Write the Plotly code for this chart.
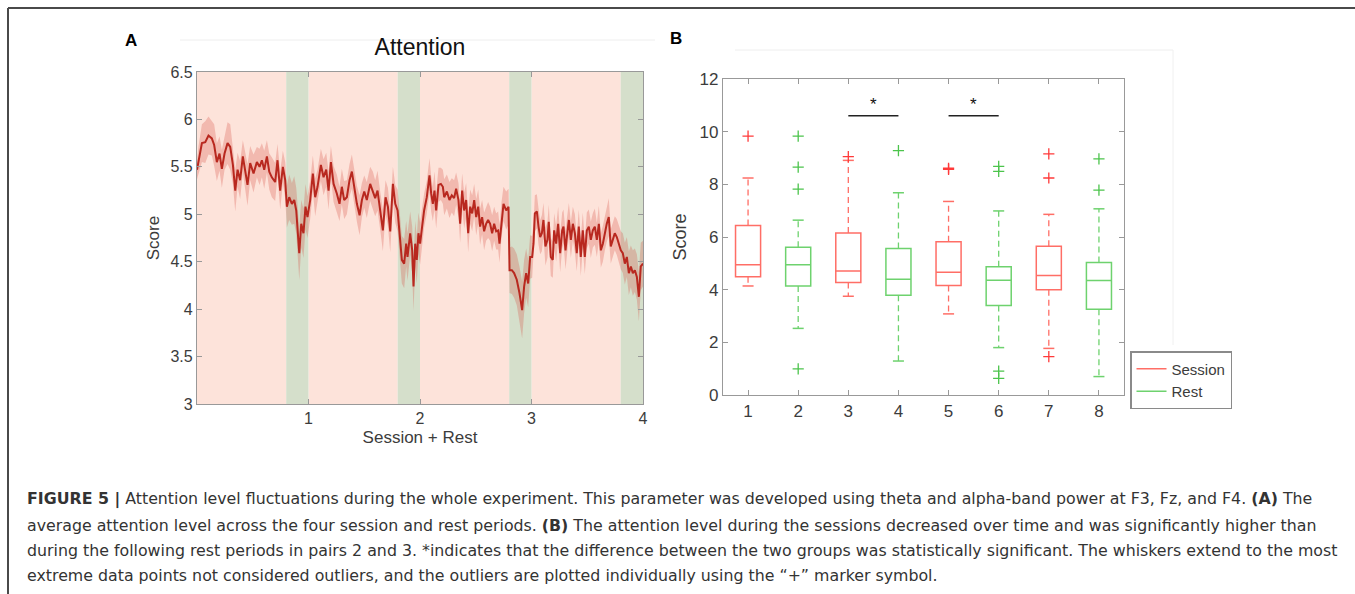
import plotly.graph_objects as go

# ---------------- Panel A data ----------------
time_x = [
    0.000, 0.014, 0.044, 0.074, 0.103, 0.133, 0.154, 0.178, 0.202, 0.223,
    0.247, 0.274, 0.298, 0.322, 0.343, 0.364, 0.387, 0.411, 0.432, 0.453,
    0.477, 0.507, 0.537, 0.561, 0.582, 0.603, 0.627, 0.648, 0.671, 0.701,
    0.722, 0.746, 0.770, 0.791, 0.806, 0.827, 0.851, 0.872, 0.890, 0.902,
    0.917, 0.935, 0.955, 0.973, 0.991, 1.015, 1.039, 1.060, 1.081, 1.111,
    1.135, 1.159, 1.180, 1.201, 1.225, 1.254, 1.278, 1.299, 1.320, 1.344,
    1.368, 1.389, 1.410, 1.434, 1.458, 1.479, 1.500, 1.523, 1.553, 1.577,
    1.598, 1.619, 1.643, 1.667, 1.691, 1.712, 1.733, 1.757, 1.778, 1.799,
    1.822, 1.837, 1.858, 1.876, 1.888, 1.912, 1.930, 1.942, 1.957, 1.971,
    1.986, 2.001, 2.019, 2.037, 2.061, 2.085, 2.100, 2.115, 2.130, 2.145,
    2.166, 2.187, 2.205, 2.217, 2.241, 2.264, 2.285, 2.306, 2.324, 2.345,
    2.360, 2.378, 2.396, 2.414, 2.432, 2.450, 2.468, 2.486, 2.504, 2.522,
    2.539, 2.557, 2.575, 2.593, 2.611, 2.629, 2.647, 2.665, 2.683, 2.701,
    2.713, 2.731, 2.749, 2.773, 2.794, 2.803, 2.824, 2.844, 2.868, 2.892,
    2.916, 2.934, 2.952, 2.970, 2.988, 3.006, 3.018, 3.030, 3.048, 3.063,
    3.078, 3.093, 3.107, 3.125, 3.143, 3.155, 3.173, 3.191, 3.203, 3.221,
    3.239, 3.257, 3.275, 3.287, 3.305, 3.317, 3.335, 3.353, 3.371, 3.389,
    3.406, 3.424, 3.442, 3.460, 3.478, 3.496, 3.514, 3.532, 3.550, 3.568,
    3.586, 3.604, 3.622, 3.640, 3.658, 3.675, 3.693, 3.711, 3.729, 3.747,
    3.765, 3.783, 3.801, 3.819, 3.837, 3.855, 3.873, 3.891, 3.909, 3.927,
    3.945, 3.963, 3.980, 4.000,
]
attention_mean = [
    5.47, 5.57, 5.75, 5.76, 5.83, 5.80, 5.73, 5.55, 5.64, 5.48,
    5.64, 5.75, 5.71, 5.52, 5.25, 5.47, 5.36, 5.61, 5.48, 5.31,
    5.54, 5.43, 5.55, 5.50, 5.57, 5.47, 5.61, 5.45, 5.39, 5.34,
    5.57, 5.25, 5.50, 5.36, 5.08, 5.18, 5.11, 5.15, 5.04, 4.83,
    4.59, 4.90, 4.80, 5.08, 4.97, 5.15, 5.43, 5.18, 5.29, 5.52,
    5.39, 5.47, 5.25, 5.55, 5.32, 5.22, 5.11, 5.29, 5.15, 5.18,
    5.36, 5.45, 5.29, 5.11, 4.99, 5.15, 5.24, 5.15, 5.32, 5.25,
    5.17, 5.25, 5.04, 4.83, 5.18, 5.08, 4.82, 5.32, 5.11, 5.04,
    4.73, 4.52, 4.48, 4.69, 4.55, 4.80, 4.62, 4.24, 4.69, 4.52,
    4.80, 4.69, 4.87, 5.04, 5.18, 5.41, 5.22, 5.11, 5.25, 5.04,
    5.31, 5.32, 5.29, 5.18, 5.24, 5.15, 5.20, 5.17, 5.27, 5.15,
    4.90, 5.25, 5.04, 5.15, 4.80, 5.08, 5.01, 5.15, 4.97, 5.08,
    4.87, 4.97, 4.82, 4.90, 4.94, 4.90, 4.80, 4.90, 4.82, 4.83,
    4.69, 4.94, 5.11, 5.04, 5.08, 4.41, 4.41, 4.38, 4.31, 4.17,
    3.99, 4.24, 4.38, 4.27, 4.55, 4.55, 4.69, 5.01, 5.03, 4.87,
    4.76, 4.80, 4.94, 4.66, 4.73, 4.92, 4.55, 4.52, 4.83, 4.69,
    4.90, 4.59, 4.83, 4.87, 4.62, 4.76, 4.94, 4.73, 4.90, 4.80,
    4.59, 4.87, 4.55, 4.83, 4.55, 4.83, 4.87, 4.73, 4.83, 4.87,
    4.73, 4.90, 4.62, 4.69, 4.80, 4.90, 4.97, 4.66, 4.73, 4.80,
    4.76, 4.69, 4.62, 4.59, 4.48, 4.55, 4.38, 4.45, 4.38, 4.41,
    4.34, 4.13, 4.45, 4.48,
]
attention_sem = [
    0.10, 0.15, 0.20, 0.22, 0.20, 0.18, 0.22, 0.20, 0.18, 0.20,
    0.17, 0.22, 0.24, 0.20, 0.22, 0.18, 0.20, 0.17, 0.19, 0.22,
    0.18, 0.20, 0.16, 0.19, 0.18, 0.20, 0.17, 0.19, 0.21, 0.20,
    0.17, 0.20, 0.17, 0.19, 0.22, 0.24, 0.22, 0.25, 0.24, 0.27,
    0.28, 0.25, 0.26, 0.24, 0.22, 0.20, 0.19, 0.20, 0.18, 0.17,
    0.19, 0.18, 0.20, 0.17, 0.19, 0.20, 0.18, 0.19, 0.20, 0.18,
    0.17, 0.18, 0.20, 0.19, 0.21, 0.18, 0.17, 0.19, 0.18, 0.20,
    0.19, 0.21, 0.20, 0.22, 0.18, 0.20, 0.22, 0.18, 0.20, 0.22,
    0.24, 0.25, 0.26, 0.24, 0.25, 0.23, 0.25, 0.26, 0.24, 0.25,
    0.22, 0.22, 0.20, 0.18, 0.17, 0.18, 0.19, 0.18, 0.20, 0.19,
    0.18, 0.17, 0.18, 0.19, 0.18, 0.19, 0.18, 0.19, 0.17, 0.18,
    0.20, 0.18, 0.19, 0.18, 0.20, 0.18, 0.19, 0.17, 0.19, 0.18,
    0.19, 0.18, 0.20, 0.18, 0.19, 0.18, 0.19, 0.18, 0.19, 0.20,
    0.20, 0.19, 0.18, 0.20, 0.19, 0.24, 0.25, 0.26, 0.27, 0.28,
    0.30, 0.28, 0.26, 0.25, 0.23, 0.22, 0.21, 0.19, 0.18, 0.19,
    0.18, 0.19, 0.18, 0.20, 0.19, 0.18, 0.20, 0.19, 0.18, 0.19,
    0.18, 0.20, 0.19, 0.18, 0.20, 0.19, 0.18, 0.19, 0.18, 0.20,
    0.19, 0.18, 0.20, 0.19, 0.18, 0.19, 0.18, 0.19, 0.18, 0.19,
    0.18, 0.19, 0.18, 0.19, 0.18, 0.19, 0.20, 0.18, 0.19, 0.18,
    0.19, 0.18, 0.20, 0.21, 0.22, 0.21, 0.23, 0.22, 0.24, 0.23,
    0.24, 0.26, 0.25, 0.24,
]
session_starts = [0.0, 1.0, 2.0, 3.0]
session_ends = [0.8, 1.8, 2.8, 3.8]
rest_starts = [0.8, 1.8, 2.8, 3.8]
rest_ends = [1.0, 2.0, 3.0, 4.0]
a_yticks = [3, 3.5, 4, 4.5, 5, 5.5, 6, 6.5]
a_yticklabels = ["3", "3.5", "4", "4.5", "5", "5.5", "6", "6.5"]
a_xticks = [1, 2, 3, 4]

# ---------------- Panel B data ----------------
box_pos = [1, 2, 3, 4, 5, 6, 7, 8]
box_group = ["Session", "Rest", "Session", "Rest", "Session", "Rest", "Session", "Rest"]
box_q1 = [4.49, 4.14, 4.27, 3.79, 4.16, 3.40, 4.00, 3.26]
box_med = [4.95, 4.95, 4.71, 4.40, 4.66, 4.36, 4.54, 4.35]
box_q3 = [6.44, 5.61, 6.15, 5.56, 5.82, 4.87, 5.65, 5.03]
box_lo = [4.14, 2.53, 3.75, 1.29, 3.08, 1.80, 1.77, 0.70]
box_hi = [8.24, 6.64, 8.91, 7.68, 7.35, 6.99, 6.86, 7.07]
outlier_pos = [1, 2, 2, 2, 2, 3, 4, 5, 5, 6, 6, 6, 6, 7, 7, 7, 8, 8]
outlier_val = [9.83, 9.83, 8.65, 7.82, 0.99, 9.05, 9.28, 8.61, 8.57,
               8.68, 8.49, 0.91, 0.63, 9.16, 8.24, 1.46, 8.97, 7.78]
sig_pairs = [(3, 4), (5, 6)]
sig_level = 10.6

# ---------------- styles ----------------
SESSION_BG = "#fde3da"
REST_BG = "#d5dfcb"
MEAN_COL = "#b8281f"
BAND_COL = "rgba(215,75,65,0.28)"
SES_COL = "#ff6e66"
REST_COL = "#6ed26e"
SES_OUT = "#ff3a3a"
REST_OUT = "#4cc44c"
AX_COL = "#999999"
TXT_COL = "#3c3c3c"
FONT = "Liberation Sans, Arial, sans-serif"
CAP_FONT = "DejaVu Sans, Liberation Sans, sans-serif"
W, H = 1355, 594

def px_x(p):
    return p / W

def px_y(p):
    return 1 - p / H

fig = go.Figure()

# ---- Panel A ----
upper = [m + e for m, e in zip(attention_mean, attention_sem)]
lower = [m - e for m, e in zip(attention_mean, attention_sem)]
fig.add_trace(go.Scatter(
    x=time_x + time_x[::-1], y=upper + lower[::-1], fill="toself",
    fillcolor=BAND_COL, line=dict(width=0), mode="lines",
    hoverinfo="skip", showlegend=False, xaxis="x", yaxis="y"))
fig.add_trace(go.Scatter(
    x=time_x, y=attention_mean, mode="lines",
    line=dict(color=MEAN_COL, width=2), showlegend=False,
    xaxis="x", yaxis="y"))

shapes = []
for s, e in zip(session_starts, session_ends):
    shapes.append(dict(type="rect", xref="x", yref="y domain", x0=s, x1=e, y0=0, y1=1,
                       fillcolor=SESSION_BG, line=dict(width=0), layer="below"))
for s, e in zip(rest_starts, rest_ends):
    shapes.append(dict(type="rect", xref="x", yref="y domain", x0=s, x1=e, y0=0, y1=1,
                       fillcolor=REST_BG, line=dict(width=0), layer="below"))

# ---- Panel B ----
ses_idx = [i for i, g in enumerate(box_group) if g == "Session"]
rest_idx = [i for i, g in enumerate(box_group) if g == "Rest"]

for idx, col in ((ses_idx, SES_COL), (rest_idx, REST_COL)):
    wx, wy = [], []
    for i in idx:
        wx += [box_pos[i], box_pos[i], None, box_pos[i], box_pos[i], None]
        wy += [box_q3[i], box_hi[i], None, box_q1[i], box_lo[i], None]
    fig.add_trace(go.Scatter(x=wx, y=wy, mode="lines",
                             line=dict(color=col, width=1.3, dash="6px,4px"),
                             showlegend=False, hoverinfo="skip", xaxis="x2", yaxis="y2"))
    cx, cy = [], []
    for i in idx:
        for v in (box_hi[i], box_lo[i]):
            cx += [box_pos[i] - 0.11, box_pos[i] + 0.11, None]
            cy += [v, v, None]
    fig.add_trace(go.Scatter(x=cx, y=cy, mode="lines",
                             line=dict(color=col, width=1.5),
                             showlegend=False, hoverinfo="skip", xaxis="x2", yaxis="y2"))
    fig.add_trace(go.Box(
        x=[box_pos[i] for i in idx],
        q1=[box_q1[i] for i in idx], median=[box_med[i] for i in idx],
        q3=[box_q3[i] for i in idx],
        lowerfence=[box_q1[i] for i in idx], upperfence=[box_q3[i] for i in idx],
        width=0.5, whiskerwidth=0, fillcolor="rgba(0,0,0,0)",
        line=dict(color=col, width=1.5), boxpoints=False,
        showlegend=False, xaxis="x2", yaxis="y2"))

for grp, col in (("Session", SES_OUT), ("Rest", REST_OUT)):
    ox = [p for p, v in zip(outlier_pos, outlier_val) if box_group[p - 1] == grp]
    oy = [v for p, v in zip(outlier_pos, outlier_val) if box_group[p - 1] == grp]
    fig.add_trace(go.Scatter(x=ox, y=oy, mode="markers",
                             marker=dict(symbol="cross-thin", size=8,
                                         line=dict(color=col, width=1.3)),
                             showlegend=False, xaxis="x2", yaxis="y2"))

for a, b in sig_pairs:
    fig.add_trace(go.Scatter(x=[a, b], y=[sig_level, sig_level], mode="lines",
                             line=dict(color="#222222", width=1.5),
                             showlegend=False, hoverinfo="skip", xaxis="x2", yaxis="y2"))

fig.add_trace(go.Scatter(x=[None], y=[None], mode="lines", name="Session",
                         line=dict(color=SES_COL, width=1.5), xaxis="x2", yaxis="y2"))
fig.add_trace(go.Scatter(x=[None], y=[None], mode="lines", name="Rest",
                         line=dict(color=REST_COL, width=1.5), xaxis="x2", yaxis="y2"))

annotations = []
for a, b in sig_pairs:
    annotations.append(dict(x=(a + b) / 2, y=sig_level + 0.45, xref="x2", yref="y2",
                            text="*", showarrow=False, yanchor="middle",
                            font=dict(size=17, color="#111111", family=FONT)))

annotations.append(dict(x=px_x(131), y=px_y(40), xref="paper", yref="paper", text="<b>A</b>",
                        xanchor="center", yanchor="middle", showarrow=False,
                        font=dict(size=17, color="#000", family=FONT)))
annotations.append(dict(x=px_x(676), y=px_y(38), xref="paper", yref="paper", text="<b>B</b>",
                        xanchor="center", yanchor="middle", showarrow=False,
                        font=dict(size=17, color="#000", family=FONT)))

caption_lines = [
    "<b>FIGURE 5 |</b> Attention level fluctuations during the whole experiment. This parameter was developed using theta and alpha-band power at F3, Fz, and F4. <b>(A)</b> The",
    "average attention level across the four session and rest periods. <b>(B)</b> The attention level during the sessions decreased over time and was significantly higher than",
    "during the following rest periods in pairs 2 and 3. *indicates that the difference between the two groups was statistically significant. The whiskers extend to the most",
    "extreme data points not considered outliers, and the outliers are plotted individually using the \u201c+\u201d marker symbol.",
]
caption_y = [499, 525, 550, 575]
for txt, yy in zip(caption_lines, caption_y):
    annotations.append(dict(x=px_x(25), y=px_y(yy), xref="paper", yref="paper",
                            xanchor="left", yanchor="middle", text=txt, showarrow=False,
                            font=dict(size=15.8, color="#333333", family=CAP_FONT)))

shapes.append(dict(type="line", xref="paper", yref="paper", x0=px_x(8), x1=1,
                   y0=px_y(8), y1=px_y(8), line=dict(color="#4a4a4a", width=2)))
shapes.append(dict(type="line", xref="paper", yref="paper", x0=px_x(8), x1=px_x(8),
                   y0=0, y1=px_y(8), line=dict(color="#4a4a4a", width=2)))
shapes.append(dict(type="line", xref="paper", yref="paper", x0=px_x(180), x1=px_x(655),
                   y0=px_y(40), y1=px_y(40), line=dict(color="#eeeeee", width=1)))
shapes.append(dict(type="line", xref="paper", yref="paper", x0=px_x(735), x1=px_x(1173),
                   y0=px_y(50), y1=px_y(50), line=dict(color="#eeeeee", width=1)))
shapes.append(dict(type="line", xref="paper", yref="paper", x0=px_x(1173), x1=px_x(1173),
                   y0=px_y(50), y1=px_y(345), line=dict(color="#f0f0f0", width=1)))

axis_common = dict(showgrid=False, zeroline=False, showline=True, linecolor=AX_COL,
                   linewidth=1.2, mirror="allticks", ticks="inside", ticklen=5,
                   tickcolor=AX_COL, automargin=False,
                   tickfont=dict(size=16, color=TXT_COL, family=FONT))

fig.update_layout(
    width=W, height=H, margin=dict(l=0, r=0, t=0, b=0, pad=0, autoexpand=False),
    paper_bgcolor="white", plot_bgcolor="white",
    font=dict(family=FONT, color=TXT_COL),
    title=dict(text="Attention", x=px_x(420), y=px_y(47), xanchor="center", yanchor="middle",
               xref="paper", yref="paper", automargin=False,
               font=dict(size=23, color="#111111", family=FONT)),
    xaxis=dict(axis_common, domain=[px_x(197), px_x(643)], range=[0, 4],
               tickvals=a_xticks, anchor="y",
               title=dict(text="Session + Rest", standoff=4,
                          font=dict(size=17, color=TXT_COL, family=FONT))),
    yaxis=dict(axis_common, domain=[px_y(404), px_y(72)], range=[3, 6.5],
               tickvals=a_yticks, ticktext=a_yticklabels, anchor="x",
               title=dict(text="Score", standoff=6,
                          font=dict(size=17, color=TXT_COL, family=FONT))),
    xaxis2=dict(axis_common, domain=[px_x(723), px_x(1124)], range=[0.5, 8.5],
                tickvals=box_pos, anchor="y2",
                tickfont=dict(size=17, color=TXT_COL, family=FONT)),
    yaxis2=dict(axis_common, domain=[px_y(395), px_y(79)], range=[0, 12],
                tickvals=[0, 2, 4, 6, 8, 10, 12], anchor="x2",
                tickfont=dict(size=17, color=TXT_COL, family=FONT),
                title=dict(text="Score", standoff=8,
                           font=dict(size=18, color=TXT_COL, family=FONT))),
    showlegend=True,
    legend=dict(x=px_x(1130), y=px_y(351), xanchor="left", yanchor="top",
                bgcolor="white", bordercolor="#8a8a8a", borderwidth=1.5,
                font=dict(size=15, color=TXT_COL, family=FONT),
                tracegroupgap=0, itemwidth=30),
    shapes=shapes, annotations=annotations,
)

fig.write_html("out.html", config={"displayModeBar": False},
               post_script="document.body.style.margin='0px';")
